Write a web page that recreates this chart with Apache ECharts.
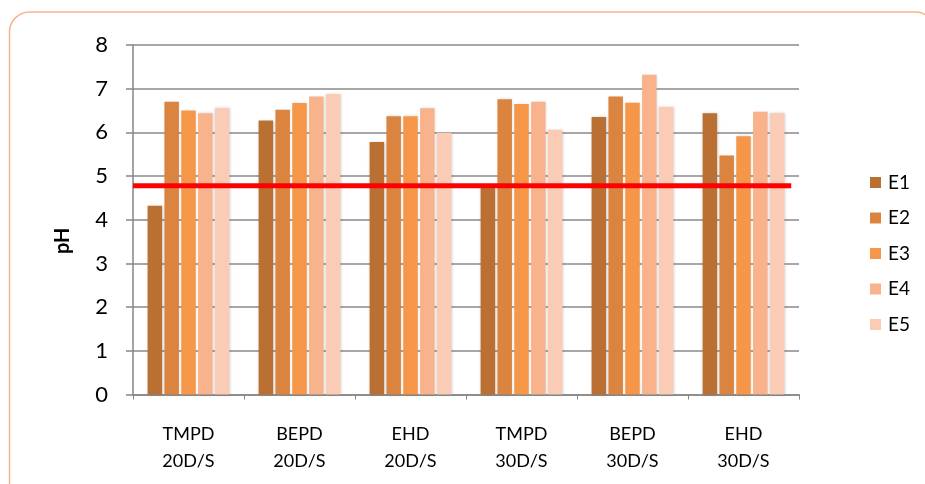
<!DOCTYPE html>
<html>
<head>
<meta charset="utf-8">
<script src="https://cdn.jsdelivr.net/npm/echarts@6/dist/echarts.min.js"></script>
<style>
  html, body { margin: 0; padding: 0; background: #fff; }
  #chart { width: 925px; height: 484px; }
</style>
</head>
<body>
<div id="chart"></div>
<script>
// Treatment groups on the category axis
const categories = ['TMPD\n20D/S', 'BEPD\n20D/S', 'EHD\n20D/S', 'TMPD\n30D/S', 'BEPD\n30D/S', 'EHD\n30D/S'];

// pH per sampling point
const E1 = [4.32, 6.27, 5.78, 4.76, 6.35, 6.44];
const E2 = [6.70, 6.52, 6.37, 6.76, 6.82, 5.47];
const E3 = [6.50, 6.67, 6.37, 6.65, 6.68, 5.91];
const E4 = [6.44, 6.82, 6.55, 6.70, 7.32, 6.47];
const E5 = [6.55, 6.88, 5.99, 6.06, 6.58, 6.44];

const seriesNames = ['E1', 'E2', 'E3', 'E4', 'E5'];
const seriesColors = ['#BB7033', '#DB8440', '#F59648', '#F8B28C', '#FACCB6'];

// Reference pH threshold
const thresholdValue = 4.78;
const thresholdSpan = [0, 5.93];

const yTicks = { min: 0, max: 8, interval: 1 };

const font = 'Lato, "Liberation Sans", sans-serif';
const seriesData = [E1, E2, E3, E4, E5];

const chart = echarts.init(document.getElementById('chart'), null, { renderer: 'canvas' });

const barSeries = seriesNames.map((name, i) => ({
  name: name,
  type: 'bar',
  xAxisIndex: 0,
  yAxisIndex: 0,
  data: seriesData[i],
  barWidth: 14.5,
  barGap: '16%',
  itemStyle: {
    color: seriesColors[i],
    shadowBlur: 3,
    shadowColor: 'rgba(0,0,0,0.18)',
    shadowOffsetX: 0.5,
    shadowOffsetY: 0
  }
}));

chart.setOption({
  backgroundColor: '#fff',
  animation: false,
  graphic: [{
    type: 'rect',
    shape: { x: 9.5, y: 12, width: 926, height: 490, r: 20 },
    style: { fill: 'none', stroke: '#F7B48A', lineWidth: 1.5 },
    z: -1
  }],
  grid: { left: 133, right: 126, top: 45, bottom: 89.5, containLabel: false },
  legend: {
    orient: 'vertical',
    left: 865,
    top: 168,
    icon: 'rect',
    itemWidth: 11,
    itemHeight: 11,
    itemGap: 16.5,
    data: seriesNames,
    textStyle: { fontFamily: font, fontSize: 19, color: '#000', padding: [0, 0, 0, 2] }
  },
  xAxis: [{
    type: 'category',
    data: categories,
    axisLine: { lineStyle: { color: '#868686', width: 1.5 } },
    axisTick: { show: true, length: 5, lineStyle: { color: '#868686' } },
    axisLabel: {
      fontFamily: font, fontSize: 18, color: '#000',
      lineHeight: 27, margin: 26, interval: 0
    },
    splitLine: { show: false }
  }, {
    type: 'value',
    show: false,
    min: 0,
    max: 6
  }],
  yAxis: {
    type: 'value',
    min: yTicks.min,
    max: yTicks.max,
    interval: yTicks.interval,
    name: 'pH',
    nameLocation: 'middle',
    nameGap: 60,
    nameRotate: 90,
    nameTextStyle: {
      fontFamily: font, fontSize: 20, fontWeight: 'bold', color: '#000',
      padding: [0, 42, 0, 0]
    },
    axisLine: { show: true, lineStyle: { color: '#868686', width: 1.5 } },
    axisTick: { show: true, length: 7, lineStyle: { color: '#868686', width: 1.5 } },
    axisLabel: { fontFamily: font, fontSize: 22, color: '#000', margin: 25 },
    splitLine: { show: true, lineStyle: { color: '#8A8A8A', width: 1.5 } }
  },
  series: barSeries.concat([{
    name: 'threshold',
    type: 'line',
    xAxisIndex: 1,
    yAxisIndex: 0,
    data: [[thresholdSpan[0], thresholdValue], [thresholdSpan[1], thresholdValue]],
    symbol: 'none',
    lineStyle: { color: '#FF0000', width: 5 },
    z: 5,
    silent: true
  }])
});
</script>
</body>
</html>
